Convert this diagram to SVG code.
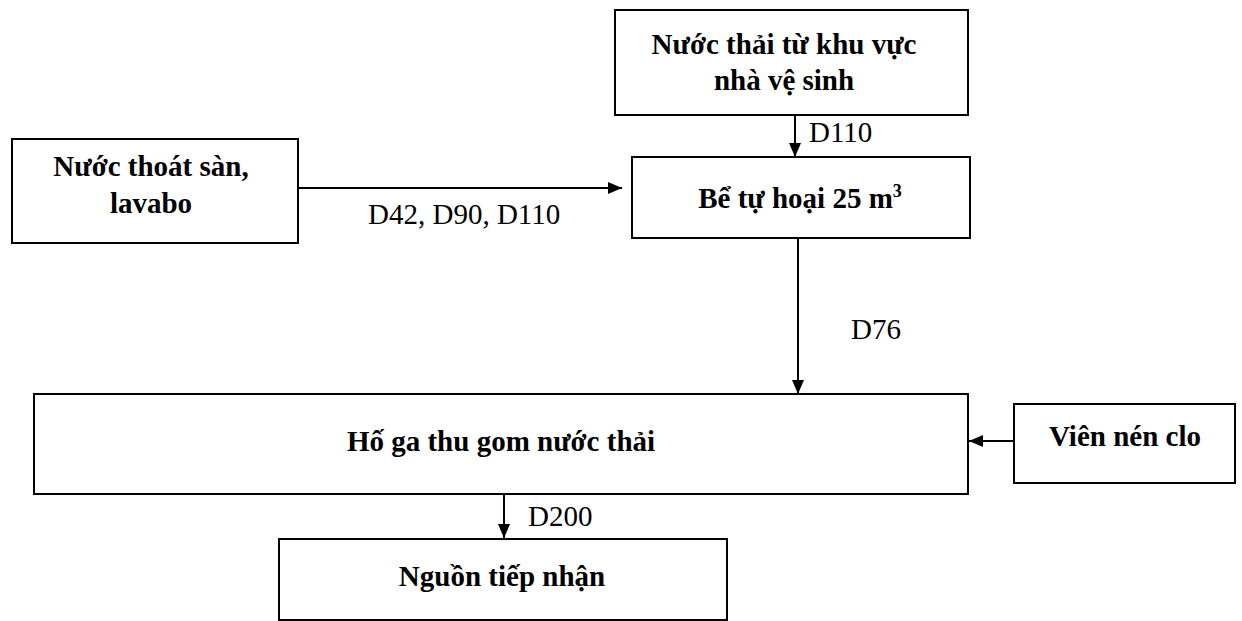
<svg xmlns="http://www.w3.org/2000/svg" width="1242" height="621" viewBox="0 0 1242 621">
  <style>
    .box { fill: #ffffff; stroke: #000000; stroke-width: 2; }
    .title { font-family: "Liberation Serif", "Times New Roman", "DejaVu Serif", serif; font-weight: bold; font-size: 29px; fill: #000000; text-anchor: middle; }
    .label { font-family: "Liberation Serif", "Times New Roman", "DejaVu Serif", serif; font-size: 29px; fill: #000000; }
    .wire { fill: none; stroke: #000000; stroke-width: 2; }
  </style>
  <defs>
    <marker id="arrow" viewBox="0 0 14 12" refX="14" refY="6" markerWidth="14" markerHeight="12" markerUnits="userSpaceOnUse" orient="auto">
      <path d="M0,0 L14,6 L0,12 Z" fill="#000000"/>
    </marker>
  </defs>
  <rect width="1242" height="621" fill="#ffffff"/>

  <g id="node-nha-ve-sinh">
    <rect class="box" x="615" y="10" width="353" height="105"/>
    <text class="title" x="784" y="54" font-family="Liberation Serif, serif">Nước thải từ khu vực</text>
    <text class="title" x="784" y="90" font-family="Liberation Serif, serif">nhà vệ sinh</text>
  </g>

  <g id="node-thoat-san">
    <rect class="box" x="12" y="139" width="286" height="104"/>
    <text class="title" x="151" y="176" font-family="Liberation Serif, serif">Nước thoát sàn,</text>
    <text class="title" x="151" y="213" font-family="Liberation Serif, serif">lavabo</text>
  </g>

  <g id="node-be-tu-hoai">
    <rect class="box" x="632" y="157" width="338" height="81"/>
    <text class="title" x="800" y="208" font-family="Liberation Serif, serif">Bể tự hoại 25 m<tspan font-size="18" dy="-11">3</tspan></text>
  </g>

  <g id="node-ho-ga">
    <rect class="box" x="34" y="394" width="934" height="100"/>
    <text class="title" x="501" y="451" font-family="Liberation Serif, serif">Hố ga thu gom nước thải</text>
  </g>

  <g id="node-vien-nen-clo">
    <rect class="box" x="1014" y="404" width="221" height="79"/>
    <text class="title" x="1125" y="446" font-family="Liberation Serif, serif">Viên nén clo</text>
  </g>

  <g id="node-nguon-tiep-nhan">
    <rect class="box" x="279" y="539" width="448" height="81"/>
    <text class="title" x="502" y="586" font-family="Liberation Serif, serif">Nguồn tiếp nhận</text>
  </g>

  <g id="connectors">
    <line class="wire" x1="795" y1="115" x2="795" y2="157" marker-end="url(#arrow)"/>
    <text class="label" x="809" y="142" font-family="Liberation Serif, serif">D110</text>

    <line class="wire" x1="298" y1="188" x2="622" y2="188" marker-end="url(#arrow)"/>
    <text class="label" x="368" y="224" font-family="Liberation Serif, serif">D42, D90, D110</text>

    <line class="wire" x1="798" y1="238" x2="798" y2="394" marker-end="url(#arrow)"/>
    <text class="label" x="851" y="339" font-family="Liberation Serif, serif">D76</text>

    <line class="wire" x1="1014" y1="441" x2="969" y2="441" marker-end="url(#arrow)"/>

    <line class="wire" x1="504" y1="494" x2="504" y2="538" marker-end="url(#arrow)"/>
    <text class="label" x="528" y="526" font-family="Liberation Serif, serif">D200</text>
  </g>
</svg>
